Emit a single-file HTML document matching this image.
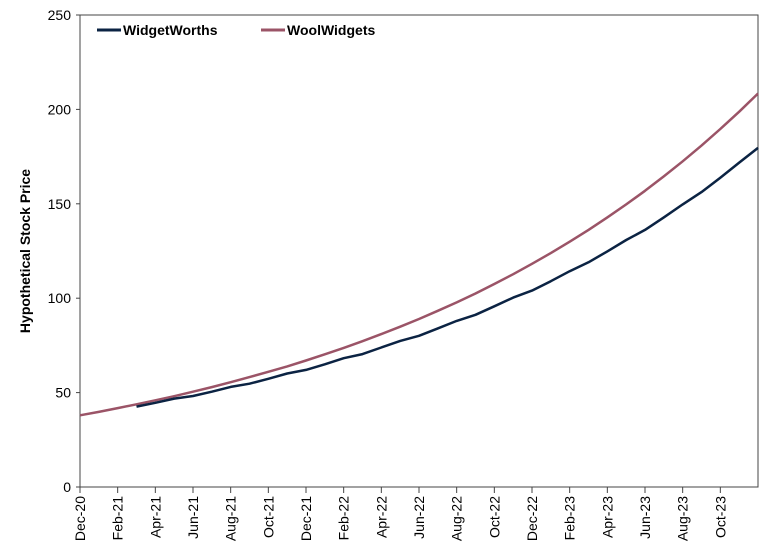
<!DOCTYPE html>
<html><head><meta charset="utf-8"><style>
body{margin:0;background:#fff;}
svg{display:block;font-family:"Liberation Sans",Arial,sans-serif;}
</style></head><body>
<svg id="chart" width="770" height="558">
<rect x="80" y="15" width="678" height="472" fill="none" stroke="#444" stroke-width="1"/>
<text transform="translate(30,251) rotate(-90)" text-anchor="middle" font-size="14" font-weight="bold" fill="#000">Hypothetical Stock Price</text>
<g id="yticks"></g>
<g id="xticks"></g>
<g id="series"></g>
<g>
<g>
<line x1="97" y1="30" x2="121" y2="30" stroke="#0b2343" stroke-width="3"/>
<text x="123" y="35" font-size="14" font-weight="bold">WidgetWorths</text></g>
<g>
<line x1="261" y1="30" x2="285" y2="30" stroke="#9b5467" stroke-width="3"/>
<text x="287" y="35" font-size="14" font-weight="bold">WoolWidgets</text></g>
</g>
</svg>
<script>
const xLabels = ["Dec-20","Feb-21","Apr-21","Jun-21","Aug-21","Oct-21","Dec-21","Feb-22","Apr-22","Jun-22","Aug-22","Oct-22","Dec-22","Feb-23","Apr-23","Jun-23","Aug-23","Oct-23"];
const yTicks = [0,50,100,150,200,250];
const woolStart = 0;
const woolValues = [38.0,39.8,41.8,43.8,45.9,48.1,50.5,52.9,55.5,58.2,61.0,63.9,67.0,70.3,73.7,77.2,81.0,84.9,89.0,93.3,97.8,102.5,107.5,112.7,118.2,123.9,129.9,136.2,142.8,149.7,156.9,164.5,172.5,180.8,189.6,198.8,208.4];
const widgetStart = 3;
const widgetValues = [42.6,44.6,46.8,48.2,50.5,53.0,54.7,57.3,60.1,62.0,65.0,68.2,70.4,73.9,77.4,80.1,84.0,88.0,91.2,95.7,100.3,104.0,109.0,114.3,119.0,124.8,130.8,136.2,142.8,149.7,156.2,163.8,171.8,179.6];

const NS="http://www.w3.org/2000/svg";
const X0=80, X1=758, Y0=487, Y1=15, MONTHS=36;
function xs(m){return X0+(X1-X0)*m/MONTHS;}
function ys(v){return Y0-(Y0-Y1)*v/250;}
function mk(tag,attrs,parent){const e=document.createElementNS(NS,tag);for(const k in attrs)e.setAttribute(k,attrs[k]);parent.appendChild(e);return e;}

const yg=document.getElementById('yticks');
yTicks.forEach(v=>{
  const t=mk('text',{x:71,y:ys(v)+5,'text-anchor':'end','font-size':14,fill:'#000'},yg);
  t.textContent=v;
  
  
  const l=mk('line',{x1:76,x2:80,y1:ys(v),y2:ys(v),stroke:'#444'},yg);
  
  
});
const xg=document.getElementById('xticks');
xLabels.forEach((lab,i)=>{
  const x=xs(i*2);
  const l=mk('line',{x1:x,x2:x,y1:487,y2:493,stroke:'#444'},xg);
  
  
  const t=mk('text',{transform:`translate(${x+5},496) rotate(-90)`,'text-anchor':'end','font-size':14,fill:'#000'},xg);
  t.textContent=lab;
  
  
});
const sg=document.getElementById('series');
function line(vals,start,color,name){
  const pts=vals.map((v,i)=>xs(start+i).toFixed(1)+','+ys(v).toFixed(1)).join(' ');
  const p=mk('polyline',{points:pts,fill:'none',stroke:color,'stroke-width':2.5,'stroke-linejoin':'round'},sg);
  
  
}
line(woolValues,woolStart,'#9b5467','woolwidgets-line');
line(widgetValues,widgetStart,'#0b2343','widgetworths-line');
</script>
</body></html>
